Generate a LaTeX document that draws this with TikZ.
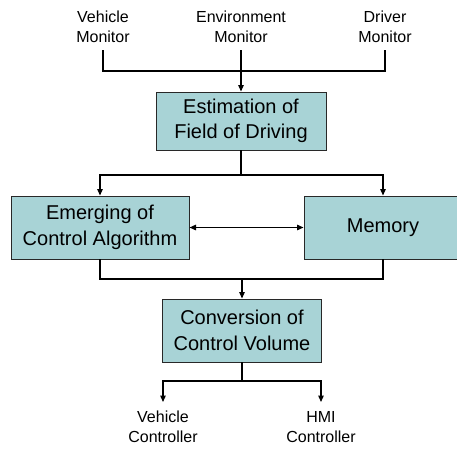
\documentclass[tikz,border=0pt]{standalone}
\usepackage{fontspec}
\setmainfont{Liberation Sans}
\usetikzlibrary{arrows.meta}
\definecolor{boxfill}{RGB}{168,211,214}
\definecolor{boxline}{RGB}{40,40,40}
\tikzset{
  block/.style={draw=boxline, line width=1pt, fill=boxfill, align=center,
    font=\fontsize{20}{25.5}\selectfont, inner sep=0pt},
  label/.style={align=center, font=\fontsize{16}{20}\selectfont,
    inner xsep=0pt, inner ysep=7pt},
  wire/.style={line width=1.3pt, line cap=rect},
  arr/.style={wire, -{Triangle[length=6.5pt,width=5.5pt]}},
  darr/.style={wire, {Triangle[length=6.5pt,width=5.5pt]}-{Triangle[length=6.5pt,width=5.5pt]}},
}
\begin{document}
\begin{tikzpicture}[x=1pt, y=-1pt]
\useasboundingbox (0,0) rectangle (457,450);

% sensor inputs
\node[label, anchor=north] (vm) at (103,4) {Vehicle\\Monitor};
\node[label, anchor=north] (em) at (241,4) {Environment\\Monitor};
\node[label, anchor=north] (dm) at (385,4) {Driver\\Monitor};

% processing blocks
\node[block, minimum width=170pt, minimum height=58pt] (est) at (241,121) {Estimation of\\Field of Driving};
\node[block, minimum width=178pt, minimum height=63pt] (eca) at (100,227.5) {Emerging of\\Control Algorithm};
\node[block, minimum width=158pt, minimum height=63pt] (mem) at (383,227.5) {Memory};
\node[block, minimum width=159pt, minimum height=63pt] (cv) at (242,330.5) {Conversion of\\Control Volume};

% outputs
\node[label, anchor=north, inner ysep=9pt] (vc) at (163,402) {Vehicle\\Controller};
\node[label, anchor=north, inner ysep=9pt] (hc) at (321,402) {HMI\\Controller};

% junction points
\coordinate (j1) at (241,71);
\coordinate (j2) at (241,175);
\coordinate (j3) at (242,279);
\coordinate (j4) at (242,381);

% monitors merge into the estimation block
\draw[wire] (vm.south) |- (dm.south |- j1) -- (dm.south);
\draw[arr] (em.south) -- (est.north);

% estimation feeds both blocks
\draw[wire] (est.south) -- (j2);
\draw[arr] (j2) -| (eca.north);
\draw[arr] (j2) -| (mem.north);
\draw[darr] (eca.east) -- (mem.west);

% both blocks feed the conversion
\draw[wire] (eca.south) |- (mem.south |- j3) -- (mem.south);
\draw[arr] (j3) -- (cv.north);

% conversion drives the controllers
\draw[wire] (cv.south) -- (j4);
\draw[arr] (j4) -| (vc.north);
\draw[arr] (j4) -| (hc.north);
\end{tikzpicture}
\end{document}
